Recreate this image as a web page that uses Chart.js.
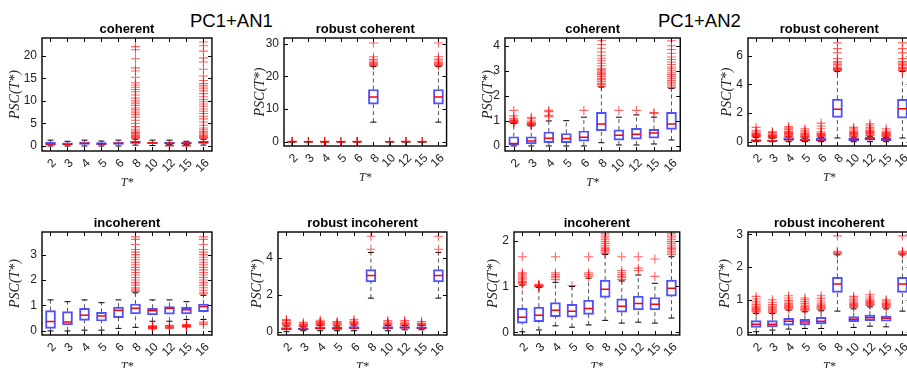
<!DOCTYPE html>
<html>
<head>
<meta charset="utf-8">
<script src="https://cdn.jsdelivr.net/npm/chart.js@4.4.1/dist/chart.umd.min.js"></script>
<style>
  html, body { margin: 0; padding: 0; overflow: hidden; background: #fff; }
  body { width: 907px; height: 368px; position: relative; font-family: "Liberation Sans", Arial, sans-serif; }
  canvas { position: absolute; }
  .hdr { position: absolute; font-size: 18.5px; line-height: 1; color: #000; white-space: nowrap; }
</style>
</head>
<body>
<div class="hdr" style="left:190px;top:12px">PC1+AN1</div>
<div class="hdr" style="left:658px;top:12px">PC1+AN2</div>
<script>
// x categories (T*)
const cats = ['2', '3', '4', '5', '6', '8', '10', '12', '15', '16'];

// box stats per category: [lower whisker, q1, median, q3, upper whisker]
// PC1+AN1 coherent
const coh1Box = [[0,0.2,0.45,0.85,1.3],[0,0.2,0.4,0.7,1.05],[0,0.35,0.6,0.9,1.3],[0,0.3,0.5,0.75,1.1],[0,0.35,0.6,0.9,1.3],
  [0.2,0.55,0.8,1.05,1.5],[0.1,0.5,0.7,0.9,1.3],[0.3,0.45,0.65,0.9,1.3],[0.3,0.45,0.6,0.8,1.05],[0.2,0.55,0.8,1.05,1.5]];
const coh1Out = [[],[],[],[],[],
  [1.7,1.9,2.1,2.3,2.5,2.8,3.0,3.3,3.7,4.3,5.0,5.7,6.4,7.0,7.5,8.0,8.4,9.0,9.5,10.0,10.6,11.3,12.0,12.5,13.0,13.5,14.0,15.2,16.6,17.3,19.3,21.3,22.0],
  [],[0,0.08,0.15],[0,0.08,0.15],
  [1.7,1.9,2.1,2.3,2.6,2.9,3.2,3.6,4.0,4.6,5.3,6.0,6.6,7.2,7.7,8.2,8.8,9.3,9.8,10.3,10.9,11.6,12.2,12.8,13.3,13.8,14.5,15.5,17.0,18.6,19.5,21.0,22.2,23.0]];
const coh1Ticks = [0, 5, 10, 15, 20];

// PC1+AN1 robust coherent
const rcoh1Box = [[0,0,0,0,0],[0,0,0,0,0],[0,0,0,0,0],[0,0,0,0,0],[0,0,0,0,0],
  [6,11.5,13.7,16,23],[0,0,0,0,0],[0,0,0,0,0],[0,0,0,0,0],[6,11.5,13.7,16,23]];
const rcoh1Out = [[0,0.05,0.1,0.15],[0,0.05,0.1],[0,0.05,0.1,0.15],[0,0.05,0.1],[0,0.05,0.1,0.15],
  [23.3,23.6,23.9,24.3,24.7,25.2,26,30.2],[0,0.05,0.1],[0,0.05,0.1,0.15],[0,0.05,0.1],
  [23.3,23.6,23.9,24.3,24.7,25.2,26,30.2]];
const rcoh1Ticks = [0, 10, 20, 30];

// PC1+AN2 coherent
const coh2Box = [[0,0.03,0.1,0.37,0.9],[0,0.08,0.2,0.37,0.8],[0,0.13,0.31,0.56,1.0],[0,0.13,0.3,0.5,1.01],[0,0.19,0.35,0.6,1.15],
  [0.13,0.61,0.88,1.34,2.35],[0.04,0.23,0.43,0.64,1.15],[0.04,0.27,0.47,0.7,1.24],[0.08,0.31,0.52,0.66,1.15],[0.24,0.66,0.88,1.34,2.3]];
const coh2Out = [[0.92,0.94,0.96,0.98,1.0,1.02,1.05,1.1,1.2,1.42],[0.82,0.84,0.86,0.88,0.9,0.92,0.95,1.0,1.1,1.15],
  [1.17,1.22,1.37,1.42],[],[1.42],
  [2.38,2.45,2.5,2.58,2.65,2.7,2.78,2.85,2.9,2.95,3.0,3.05,3.1,3.2,3.3,3.4,3.5,3.6,3.75,3.9,4.05,4.2],
  [1.42],[1.42],[1.3,1.33],
  [2.33,2.4,2.48,2.55,2.62,2.7,2.78,2.85,2.92,3.0,3.08,3.15,3.25,3.35,3.45,3.55,3.7,3.85,4.0,4.2]];
const coh2Ticks = [0, 1, 2, 3, 4];

// PC1+AN2 robust coherent
const rcoh2Box = [[0,0.02,0.06,0.15,0.3],[0,0.02,0.05,0.12,0.25],[0,0.1,0.13,0.28,0.33],[0,0.05,0.1,0.2,0.25],[0,0.08,0.12,0.25,0.3],
  [0.26,1.7,2.27,2.97,4.9],[0,0.08,0.15,0.25,0.32],[0,0.1,0.18,0.3,0.38],[0,0.08,0.15,0.25,0.3],[0.26,1.65,2.3,2.95,4.9]];
const rcoh2Out = [[0.32,0.36,0.4,0.44,0.48,0.52,0.56,0.6,0.7,0.8,1.0],[0.27,0.3,0.33,0.36,0.4,0.44,0.48,0.55,0.65,0.7],
  [0.36,0.4,0.45,0.5,0.55,0.6,0.65,0.7,0.75,0.85,0.95,1.05],[0.28,0.32,0.36,0.4,0.45,0.5,0.55,0.6,0.7,0.8,0.9],
  [0.33,0.38,0.42,0.46,0.5,0.55,0.6,0.7,0.9,1.1,1.3],
  [4.95,5.0,5.05,5.1,5.15,5.2,5.3,5.4,5.5,5.6,5.8,6.2,6.5,6.9],
  [0.35,0.4,0.45,0.5,0.55,0.6,0.65,0.7,0.8,0.9,1.0],[0.42,0.48,0.54,0.6,0.65,0.7,0.75,0.8,0.9,1.0,1.15,1.25],
  [0.33,0.38,0.42,0.46,0.5,0.55,0.6,0.65,0.75,0.9],
  [4.95,5.0,5.1,5.15,5.2,5.3,5.4,5.5,5.6,5.8,6.2,6.5,6.9]];
const rcoh2Ticks = [0, 2, 4, 6];

// PC1+AN1 incoherent
const inc1Box = [[0,0.1,0.37,0.8,1.22],[0,0.24,0.35,0.76,1.15],[0.03,0.41,0.62,0.89,1.22],[0.03,0.39,0.59,0.73,1.11],[0.1,0.52,0.81,0.94,1.22],
  [0.14,0.67,0.89,1.06,1.5],[0.38,0.63,0.8,0.89,1.22],[0.38,0.66,0.89,0.96,1.22],[0.45,0.67,0.83,0.93,1.15],[0.45,0.76,0.96,1.06,1.4]];
const inc1Out = [[],[],[],[],[],
  [1.55,1.6,1.65,1.7,1.8,1.9,2.0,2.1,2.2,2.3,2.4,2.5,2.6,2.7,2.8,2.9,3.0,3.1,3.2,3.4,3.6,3.7],
  [0.08,0.1,0.12,0.14,0.16,0.18,0.2],[0.1,0.13,0.16,0.19,0.22],[0.15,0.17,0.19,0.21,0.23,0.25],
  [0.25,0.3,0.35,1.45,1.5,1.6,1.7,1.8,1.9,2.0,2.1,2.2,2.3,2.4,2.5,2.6,2.7,2.8,2.9,3.0,3.1,3.2,3.4,3.6,3.7]];
const inc1Ticks = [0, 1, 2, 3];

// PC1+AN1 robust incoherent
const rinc1Box = [[0,0.1,0.15,0.22,0.3],[0.05,0.1,0.13,0.18,0.25],[0.05,0.13,0.18,0.25,0.32],[0.05,0.12,0.17,0.23,0.3],[0.05,0.15,0.2,0.28,0.35],
  [1.81,2.69,3.03,3.35,4.28],[0.05,0.15,0.2,0.27,0.33],[0.1,0.18,0.22,0.28,0.33],[0.1,0.16,0.2,0.26,0.32],[1.81,2.69,3.03,3.35,4.28]];
const rinc1Out = [[0.32,0.36,0.4,0.44,0.48,0.52,0.6,0.65],[0.27,0.3,0.34,0.38,0.42,0.5],[0.34,0.38,0.42,0.46,0.5,0.55,0.62],
  [0.32,0.36,0.4,0.44,0.5,0.55],[0.37,0.41,0.45,0.5,0.56,0.65],[4.45,5.15],
  [0.35,0.39,0.43,0.47,0.52,0.6],[0.35,0.39,0.43,0.47,0.52,0.6],[0.34,0.38,0.42,0.46,0.55],[4.45,5.15]];
const rinc1Ticks = [0, 2, 4];

// PC1+AN2 incoherent
const inc2Box = [[0.01,0.2,0.33,0.52,1.03],[0.05,0.23,0.37,0.55,0.98],[0.14,0.34,0.48,0.65,1.09],[0.11,0.33,0.46,0.61,1.0],[0.16,0.39,0.52,0.7,1.18],
  [0.26,0.76,0.94,1.14,1.7],[0.2,0.44,0.57,0.73,1.12],[0.22,0.49,0.63,0.79,1.25],[0.2,0.49,0.61,0.76,1.07],[0.31,0.79,0.96,1.14,1.65]];
const inc2Out = [[1.05,1.07,1.09,1.11,1.14,1.17,1.2,1.23,1.27,1.3,1.65],[0.99,1.0,1.01,1.02,1.03,1.05],
  [1.15,1.19,1.22,1.26,1.3,1.65],[1.02],[1.22,1.26,1.3,1.65],
  [1.72,1.75,1.78,1.8,1.83,1.86,1.9,1.94,1.98,2.02,2.06,2.1,2.15],
  [1.15,1.19,1.22,1.26,1.3,1.35,1.65],[1.35,1.4,1.65],[1.22,1.6],
  [1.7,1.73,1.76,1.8,1.83,1.86,1.9,1.94,1.98,2.02,2.06,2.1,2.15]];
const inc2Ticks = [0, 1, 2];

// PC1+AN2 robust incoherent
const rinc2Box = [[0.02,0.15,0.25,0.36,0.58],[0.07,0.17,0.25,0.36,0.58],[0.1,0.22,0.34,0.43,0.68],[0.12,0.23,0.32,0.4,0.63],[0.12,0.26,0.34,0.46,0.66],
  [0.65,1.22,1.48,1.68,2.37],[0.15,0.33,0.4,0.48,0.72],[0.19,0.36,0.45,0.53,0.78],[0.17,0.34,0.43,0.5,0.72],[0.65,1.22,1.48,1.68,2.37]];
const rinc2Out = [[0.62,0.65,0.68,0.71,0.74,0.77,0.8,0.85,0.9,0.95,1.02,1.1],[0.6,0.63,0.66,0.69,0.72,0.76,0.8,0.85,0.92,1.0],
  [0.72,0.75,0.78,0.81,0.84,0.88,0.93,0.98,1.05,1.12],[0.66,0.69,0.72,0.75,0.79,0.83,0.88,0.94,1.0,1.05],
  [0.7,0.73,0.76,0.79,0.82,0.86,0.9,0.96,1.04,1.12],[2.4,2.42,2.45,2.48,2.95],
  [0.76,0.79,0.82,0.85,0.88,0.92,0.96,1.0,1.05,1.1],[0.82,0.85,0.88,0.91,0.94,0.98,1.02,1.08,1.15],
  [0.76,0.79,0.82,0.85,0.88,0.92,0.96,1.0],[2.4,2.42,2.45,2.48,2.95]];
const rinc2Ticks = [0, 1, 2, 3];

const SANS = "'Liberation Sans', Arial, sans-serif";
const SERIF = "'Liberation Serif', 'DejaVu Serif', serif";
const YW = 44;   // y axis box width
const XH = 40;   // x axis box height
const TH = 15;   // panel title height

// box outline + inward ticks, matlab style
const framePlugin = {
  id: 'frame',
  afterDatasetsDraw(chart) {
    const { ctx, chartArea: a } = chart;
    const x = chart.scales.x, y = chart.scales.y;
    ctx.save();
    ctx.strokeStyle = '#000';
    ctx.lineWidth = 1.4;
    ctx.strokeRect(a.left, a.top, a.right - a.left, a.bottom - a.top);
    ctx.lineWidth = 1;
    ctx.beginPath();
    x.ticks.forEach(t => {
      const p = Math.round(x.getPixelForValue(t.value)) + 0.5;
      ctx.moveTo(p, a.bottom); ctx.lineTo(p, a.bottom - 4);
      ctx.moveTo(p, a.top); ctx.lineTo(p, a.top + 4);
    });
    y.ticks.forEach(t => {
      const p = Math.round(y.getPixelForValue(t.value)) + 0.5;
      ctx.moveTo(a.left, p); ctx.lineTo(a.left + 4, p);
      ctx.moveTo(a.right, p); ctx.lineTo(a.right - 4, p);
    });
    ctx.stroke();
    ctx.restore();
  }
};

function boxPanel(title, box, out, yTicks, yMin, yMax, rect, titleOff) {
  const [L, T, R, B] = rect;
  const cv = document.createElement('canvas');
  cv.width = YW + (R - L) + 6;
  cv.height = TH + (B - T) + XH;
  cv.style.left = (L - YW) + 'px';
  cv.style.top = (T - TH) + 'px';
  document.body.appendChild(cv);

  const boxes = [], meds = [], caps = [], whisk = [], outs = [];
  box.forEach((b, i) => {
    const x = i + 1;
    boxes.push({ x, y: [b[1], b[3]] });
    meds.push({ x, y: b[2] });
    caps.push({ x, y: b[0] }, { x, y: b[4] });
    whisk.push({ x, y: b[0] }, { x, y: b[1] }, { x, y: null }, { x, y: b[3] }, { x, y: b[4] }, { x, y: null });
    out[i].forEach(v => outs.push({ x, y: v }));
  });

  new Chart(cv, {
    type: 'bar',
    data: {
      datasets: [
        { type: 'line', data: outs, showLine: false, pointStyle: 'cross', pointRadius: 4.5,
          pointBorderColor: 'rgba(255,0,0,0.6)', pointBorderWidth: 1.1, pointBackgroundColor: 'rgba(0,0,0,0)' },
        { type: 'line', data: meds, showLine: false, pointStyle: 'line', pointRadius: 4.5,
          pointBorderColor: '#ff0000', pointBorderWidth: 1.5 },
        { type: 'bar', data: boxes, backgroundColor: 'rgba(0,0,0,0)', borderColor: 'rgba(50,50,255,0.85)',
          borderWidth: 1.3, borderSkipped: false, barThickness: 10 },
        { type: 'line', data: caps, showLine: false, pointStyle: 'line', pointRadius: 3,
          pointBorderColor: '#000', pointBorderWidth: 1 },
        { type: 'line', data: whisk, borderColor: '#555', borderWidth: 1, borderDash: [4, 3],
          pointRadius: 0, spanGaps: false }
      ]
    },
    options: {
      responsive: false,
      animation: false,
      events: [],
      layout: { padding: { right: 6 } },
      plugins: {
        legend: { display: false },
        tooltip: { enabled: false },
        title: {
          display: true, text: title, fullSize: false, color: '#000',
          font: { family: SANS, size: 13, weight: 'bold', lineHeight: 1 },
          padding: { top: 0, bottom: 2 }
        }
      },
      scales: {
        x: {
          type: 'linear', min: 0.5, max: 10.5, offset: false,
          grid: { display: false, drawTicks: false }, border: { display: false },
          afterBuildTicks: s => { s.ticks = cats.map((c, i) => ({ value: i + 1 })); },
          afterFit: s => { s.height = XH; },
          ticks: {
            autoSkip: false, minRotation: 45, maxRotation: 45, padding: 5, labelOffset: 4,
            color: '#222', font: { family: SANS, size: 12 },
            callback: (v, i) => cats[i]
          },
          title: { display: true, text: 'T*', color: '#222',
            font: { family: SERIF, size: 12, style: 'italic', lineHeight: 1.2 }, padding: { top: 0, bottom: 1 } }
        },
        y: {
          min: yMin, max: yMax,
          grid: { display: false, drawTicks: false }, border: { display: false },
          afterBuildTicks: s => { s.ticks = yTicks.map(v => ({ value: v })); },
          afterFit: s => { s.width = YW; },
          ticks: { padding: 5, color: '#222', font: { family: SANS, size: 12 } },
          title: { display: true, text: 'PSC(T*)', color: '#222',
            font: { family: SERIF, size: 14, style: 'italic', lineHeight: 1.2 },
            padding: { top: YW - titleOff - 8.4, bottom: 0 } }
        }
      }
    },
    plugins: [framePlugin]
  });
}

boxPanel('coherent', coh1Box, coh1Out, coh1Ticks, -1.1, 23.9, [42, 38, 213, 151], 27);
boxPanel('robust coherent', rcoh1Box, rcoh1Out, rcoh1Ticks, -1.3, 31.75, [284, 38, 448, 146], 24);
boxPanel('coherent', coh2Box, coh2Out, coh2Ticks, -0.2, 4.31, [505, 38, 681, 151], 17);
boxPanel('robust coherent', rcoh2Box, rcoh2Out, rcoh2Ticks, -0.3, 7.24, [748, 38, 912, 146], 21);
boxPanel('incoherent', inc1Box, inc1Out, inc1Ticks, -0.16, 3.89, [42, 232, 213, 335], 27);
boxPanel('robust incoherent', rinc1Box, rinc1Out, rinc1Ticks, -0.18, 5.38, [278, 232, 448, 335], 21);
boxPanel('incoherent', inc2Box, inc2Out, inc2Ticks, -0.06, 2.19, [514, 232, 681, 335], 21);
boxPanel('robust incoherent', rinc2Box, rinc2Out, rinc2Ticks, -0.08, 3.07, [748, 232, 912, 335], 23);
</script>
</body>
</html>
